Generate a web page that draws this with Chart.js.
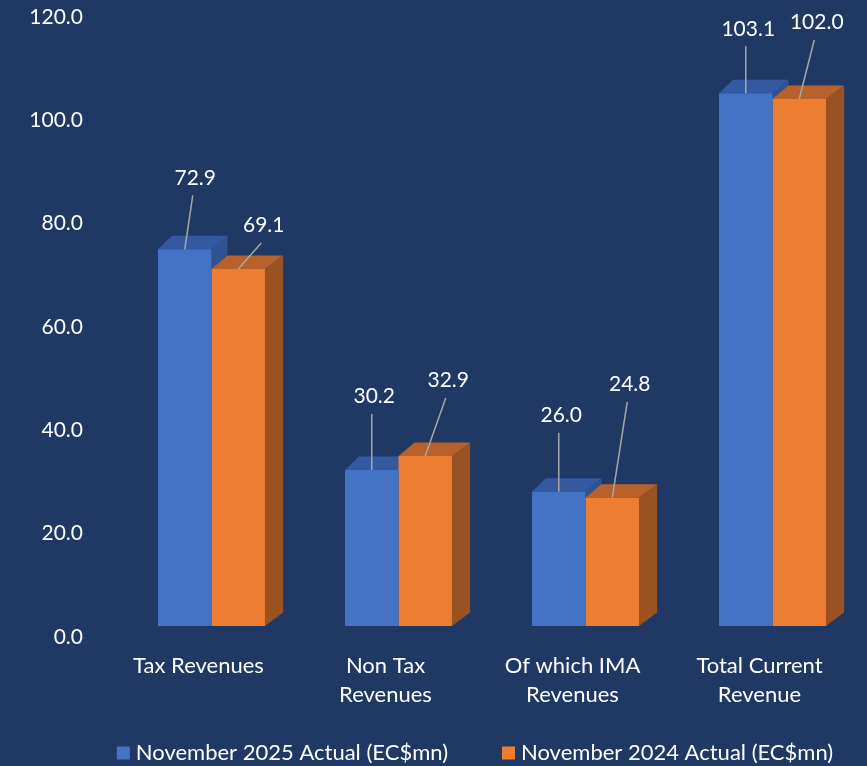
<!DOCTYPE html>
<html><head><meta charset="utf-8">
<script src="https://cdn.jsdelivr.net/npm/chart.js@4.4.1/dist/chart.umd.min.js"></script>
<style>html,body{margin:0;padding:0;background:#203864;overflow:hidden}</style>
</head><body>
<canvas id="c" width="867" height="766"></canvas>
<script>
// ---- data ----
const categories = [['Tax Revenues'], ['Non Tax', 'Revenues'], ['Of which IMA', 'Revenues'], ['Total Current', 'Revenue']];
const seriesNames = ['November 2025 Actual (EC$mn)', 'November 2024 Actual (EC$mn)'];
const nov2025 = [72.9, 30.2, 26.0, 103.1];
const nov2024 = [69.1, 32.9, 24.8, 102.0];
const yMin = 0, yMax = 120, yStep = 20;

// ---- style ----
const BG = '#203864';
const FONT = 'Lato';
const faceColors = [
  {front: '#4472C4', top: '#3459A0', side: '#2F5292'},
  {front: '#ED7D31', top: '#B8612A', side: '#9A5222'}
];
const leaderOffsets = [
  [[8, -54], [0, -56], [0, -59], [0, -47]],
  [[23, -26], [20.5, -58], [15, -96], [15, -59]]
];
const DEPTH_X = 16, DEPTH_Y = 13.5, BACK_SCALE = 0.04;
const LEGEND_CENTER_X = 475, LEGEND_Y = 753;

const bgPlugin = {
  id: 'bg',
  beforeDraw(chart) {
    const ctx = chart.ctx;
    ctx.save();
    ctx.fillStyle = BG;
    ctx.fillRect(0, 0, chart.width, chart.height);
    ctx.restore();
  }
};

const threeD = {
  id: 'threeD',
  beforeDatasetsDraw(chart) {
    const ctx = chart.ctx;
    const m0 = chart.getDatasetMeta(0).data, m1 = chart.getDatasetMeta(1).data;
    ctx.save();
    for (let i = 0; i < m0.length; i++) {
      const pl = m0[i].x - m0[i].width / 2, pr = m1[i].x + m1[i].width / 2;
      const cx = (pl + pr) / 2;
      const back = x => cx + (x - cx) * (1 + BACK_SCALE) + DEPTH_X;
      [m0[i], m1[i]].forEach((bar, d) => {
        const L = bar.x - bar.width / 2, R = bar.x + bar.width / 2;
        const T = bar.y, B = bar.base;
        ctx.fillStyle = faceColors[d].side;
        ctx.beginPath();
        ctx.moveTo(R, T); ctx.lineTo(back(R), T - DEPTH_Y);
        ctx.lineTo(back(R), B - DEPTH_Y); ctx.lineTo(R, B); ctx.closePath(); ctx.fill();
        ctx.fillStyle = faceColors[d].top;
        ctx.beginPath();
        ctx.moveTo(L, T); ctx.lineTo(R, T);
        ctx.lineTo(back(R), T - DEPTH_Y); ctx.lineTo(back(L), T - DEPTH_Y); ctx.closePath(); ctx.fill();
      });
    }
    ctx.restore();
  }
};

const labelsPlugin = {
  id: 'leaderLabels',
  afterDatasetsDraw(chart) {
    const ctx = chart.ctx;
    ctx.save();
    chart.data.datasets.forEach((ds, d) => {
      chart.getDatasetMeta(d).data.forEach((bar, i) => {
        const [ox, oy] = leaderOffsets[d][i];
        const x0 = bar.x, y0 = bar.y;
        const x1 = x0 + ox, y1 = y0 + oy;
        ctx.strokeStyle = '#A6A6A6';
        ctx.lineWidth = 1.5;
        ctx.beginPath(); ctx.moveTo(x0, y0); ctx.lineTo(x1, y1); ctx.stroke();
        ctx.fillStyle = '#FFFFFF';
        ctx.font = '21px ' + FONT;
        ctx.textAlign = 'center';
        ctx.textBaseline = 'middle';
        ctx.fillText(ds.data[i].toFixed(1), x1 + 2.5, y1 - 17.5);
      });
    });
    ctx.restore();
  }
};

const legendPlugin = {
  id: 'bottomLegend',
  afterDraw(chart) {
    const ctx = chart.ctx;
    ctx.save();
    ctx.font = '22px ' + FONT;
    ctx.textBaseline = 'middle';
    ctx.textAlign = 'left';
    const box = 13, gap = 6, itemGap = 54;
    const items = chart.data.datasets.map(ds => ({text: ds.label, color: ds.backgroundColor, w: box + gap + ctx.measureText(ds.label).width}));
    const total = items.reduce((s, it) => s + it.w, 0) + itemGap * (items.length - 1);
    let x = LEGEND_CENTER_X - total / 2;
    items.forEach(it => {
      ctx.fillStyle = it.color;
      ctx.fillRect(x, LEGEND_Y - box / 2, box, box);
      ctx.fillStyle = '#FFFFFF';
      ctx.fillText(it.text, x + box + gap, LEGEND_Y);
      x += it.w + itemGap;
    });
    ctx.restore();
  }
};

Chart.defaults.font.family = FONT;
Chart.defaults.font.size = 22;
Chart.defaults.color = '#FFFFFF';

new Chart(document.getElementById('c'), {
  type: 'bar',
  data: {
    labels: categories,
    datasets: [
      {label: seriesNames[0], data: nov2025, backgroundColor: faceColors[0].front, borderWidth: 0},
      {label: seriesNames[1], data: nov2024, backgroundColor: faceColors[1].front, borderWidth: 0}
    ]
  },
  options: {
    responsive: false,
    animation: false,
    devicePixelRatio: 1,
    layout: {padding: {left: 0, right: 1, top: 6, bottom: 50}},
    datasets: {bar: {categoryPercentage: 0.572, barPercentage: 1}},
    plugins: {
      legend: {display: false},
      tooltip: {enabled: false}
    },
    scales: {
      x: {
        grid: {display: false, drawTicks: false},
        border: {display: false},
        ticks: {padding: 25, labelOffset: -13, font: {size: 22, lineHeight: 1.32}, color: '#FFFFFF', maxRotation: 0, autoSkip: false},
        afterFit(s) { s.height = 90; s.paddingLeft = 0; s.paddingRight = 0; }
      },
      y: {
        min: yMin, max: yMax,
        grid: {display: false, drawTicks: false},
        border: {display: false},
        ticks: {stepSize: yStep, padding: 35, labelOffset: 11, color: '#FFFFFF', font: {size: 21},
          callback: v => Number(v).toFixed(1)},
        afterFit(s) { s.width = 118; s.paddingTop = 0; s.paddingBottom = 0; }
      }
    }
  },
  plugins: [bgPlugin, threeD, labelsPlugin, legendPlugin]
});
</script>
</body></html>
